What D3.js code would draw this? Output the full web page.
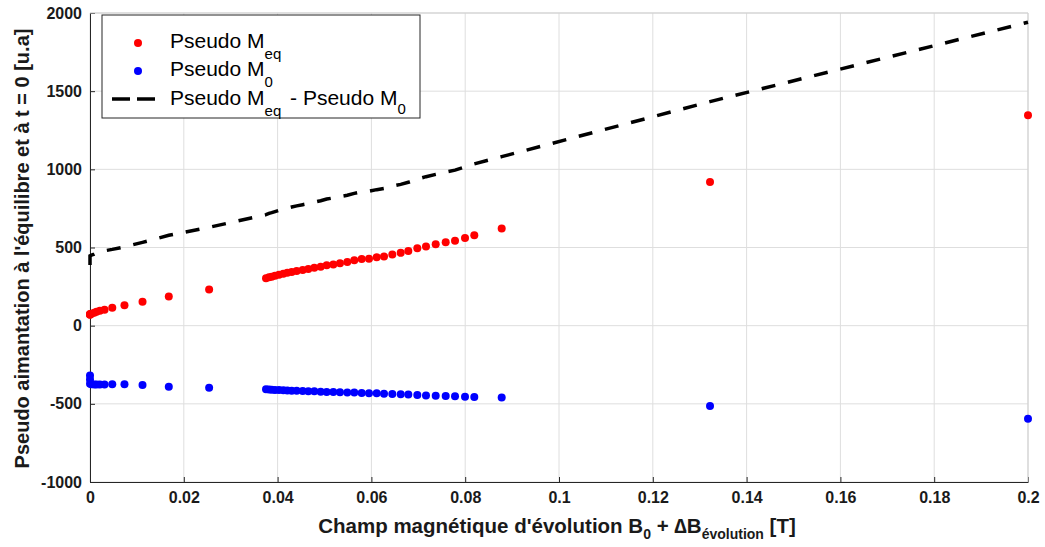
<!DOCTYPE html>
<html>
<head>
<meta charset="utf-8">
<script src="https://cdn.jsdelivr.net/npm/d3@7"></script>
<style>
  body { margin: 0; background: #fff; }
  svg text { font-family: "Liberation Sans", Arial, sans-serif; }
</style>
</head>
<body>
<svg id="chart" width="1045" height="547"></svg>
<script>
// magnetic field values (T)
var field = [0, 0, 0, 0.0003, 0.0009, 0.0014, 0.0021, 0.0031, 0.00475, 0.00735, 0.0112, 0.0168, 0.0254,
    0.03753, 0.03817, 0.03874, 0.03945, 0.0403, 0.04122, 0.04207, 0.04301, 0.04407, 0.04535,
    0.04655, 0.04783, 0.04919, 0.05047, 0.05188, 0.0533, 0.05486, 0.05635, 0.05793, 0.05949,
    0.06113, 0.06269, 0.06446, 0.06625, 0.06787, 0.06979, 0.07164, 0.07371, 0.07584, 0.07783,
    0.07996, 0.08194, 0.08778, 0.1322, 0.2];

// pseudo M_eq
var mEq = [70, 72, 75, 76, 82, 89, 95, 102, 114, 130, 153, 187, 232,
    303, 309, 313, 319, 326, 332, 338, 343, 349, 356,
    362, 370, 377, 386, 392, 400, 407, 418, 426, 428,
    437, 443, 456, 466, 477, 495, 507, 520, 533, 543,
    560, 578, 622, 919, 1346];

// pseudo M_0
var m0 = [-318, -345, -372, -375, -376, -376, -376, -377, -374, -374, -380, -391, -397,
    -407, -409, -410, -411, -412, -413, -414, -416, -417, -418,
    -419, -420, -422, -424, -425, -426, -427, -428, -430, -432,
    -433, -435, -437, -438, -440, -443, -446, -448, -450, -452,
    -455, -457, -459, -514, -595];

var xTicks = [0, 0.02, 0.04, 0.06, 0.08, 0.1, 0.12, 0.14, 0.16, 0.18, 0.2];
var yTicks = [-1000, -500, 0, 500, 1000, 1500, 2000];

var svg = d3.select("#chart");
var pLeft = 90, pRight = 1028, pTop = 13, pBottom = 482;

var x = d3.scaleLinear().domain([0, 0.2]).range([pLeft, pRight]);
var y = d3.scaleLinear().domain([-1000, 2000]).range([pBottom, pTop]);

var data = field.map(function(b, i) {
    return { b: b, eq: mEq[i], m0: m0[i], diff: mEq[i] - m0[i] };
});

// grid
var grid = svg.append("g").attr("class", "grid");
grid.selectAll("line.gx")
    .data(xTicks)
    .enter().append("line")
    .attr("x1", function(d) { return x(d); })
    .attr("x2", function(d) { return x(d); })
    .attr("y1", pTop).attr("y2", pBottom)
    .attr("stroke", "#dedede").attr("stroke-width", 1);
grid.selectAll("line.gy")
    .data(yTicks)
    .enter().append("line")
    .attr("y1", function(d) { return y(d); })
    .attr("y2", function(d) { return y(d); })
    .attr("x1", pLeft).attr("x2", pRight)
    .attr("stroke", "#dedede").attr("stroke-width", 1);

// axes
var xAxis = d3.axisBottom(x).tickValues(xTicks).tickSizeInner(-5).tickSizeOuter(0)
    .tickPadding(10).tickFormat(function(d) { return String(+d.toFixed(2)); });
var gx = svg.append("g").attr("transform", "translate(0," + pBottom + ")").call(xAxis);
gx.select(".domain").attr("stroke", "#262626");
gx.selectAll(".tick line").attr("stroke", "#262626");
gx.selectAll(".tick text")
    .style("font-weight", "bold").style("font-size", "16px").attr("fill", "#1a1a1a");

var yAxis = d3.axisLeft(y).tickValues(yTicks).tickSizeInner(-5).tickSizeOuter(0).tickPadding(8)
    .tickFormat(function(d) { return String(d); });
var gy = svg.append("g").attr("transform", "translate(" + pLeft + ",0)").call(yAxis);
gy.select(".domain").attr("stroke", "#262626");
gy.selectAll(".tick line").attr("stroke", "#262626");
gy.selectAll(".tick text")
    .style("font-weight", "bold").style("font-size", "16px").attr("fill", "#1a1a1a");

// top / right border
svg.append("line").attr("x1", pLeft).attr("x2", pRight).attr("y1", pTop).attr("y2", pTop)
    .attr("stroke", "#cfcfcf");
svg.append("line").attr("x1", pRight).attr("x2", pRight).attr("y1", pTop).attr("y2", pBottom)
    .attr("stroke", "#cfcfcf");

// difference line
var line = d3.line()
    .x(function(d) { return x(d.b); })
    .y(function(d) { return y(d.diff); });
svg.append("path")
    .datum(data)
    .attr("d", line)
    .attr("fill", "none")
    .attr("stroke", "#000")
    .attr("stroke-width", 3.5)
    .attr("stroke-dasharray", "14,13");

// points
svg.append("g").selectAll("circle")
    .data(data)
    .enter().append("circle")
    .attr("cx", function(d) { return x(d.b); })
    .attr("cy", function(d) { return y(d.eq); })
    .attr("r", 4)
    .attr("fill", "#ff0000");
svg.append("g").selectAll("circle")
    .data(data)
    .enter().append("circle")
    .attr("cx", function(d) { return x(d.b); })
    .attr("cy", function(d) { return y(d.m0); })
    .attr("r", 4)
    .attr("fill", "#0000ff");

// axis labels
var xl = svg.append("text")
    .attr("x", (pLeft + pRight) / 2 - 2).attr("y", 533)
    .attr("text-anchor", "middle")
    .style("font-weight", "bold").style("font-size", "20.5px").attr("fill", "#1a1a1a");
xl.append("tspan").text("Champ magnétique d'évolution B");
xl.append("tspan").text("0").attr("dy", 6).style("font-size", "14px");
xl.append("tspan").text(" + \u2206B").attr("dy", -6);
xl.append("tspan").text("évolution").attr("dy", 6).style("font-size", "14px");
xl.append("tspan").text(" [T]").attr("dy", -6);

svg.append("text")
    .attr("transform", "translate(29," + ((pTop + pBottom) / 2 + 1) + ") rotate(-90)")
    .attr("text-anchor", "middle")
    .style("font-weight", "bold").style("font-size", "20px").attr("fill", "#1a1a1a")
    .text("Pseudo aimantation à l'équilibre et à t = 0 [u.a]");

// legend
var lg = svg.append("g");
lg.append("rect").attr("x", 102).attr("y", 15).attr("width", 318).attr("height", 103)
    .attr("fill", "#fff").attr("stroke", "#262626");
var items = [
    { main: "Pseudo M", sub: "eq", rest: null, type: "dot", color: "#ff0000", ty: 48 },
    { main: "Pseudo M", sub: "0", rest: null, type: "dot", color: "#0000ff", ty: 76 },
    { main: "Pseudo M", sub: "eq", rest: " - Pseudo M", type: "line", color: "#000", ty: 105 }
];
items.forEach(function(d) {
    if (d.type == "dot") {
        lg.append("circle").attr("cx", 138).attr("cy", d.ty - 5).attr("r", 4).attr("fill", d.color);
    } else {
        lg.append("line").attr("x1", 112).attr("x2", 155).attr("y1", d.ty - 6).attr("y2", d.ty - 6)
            .attr("stroke", "#000").attr("stroke-width", 3.5).attr("stroke-dasharray", "18,7");
    }
    var t = lg.append("text").attr("x", 170).attr("y", d.ty)
        .style("font-size", "21px").attr("fill", "#000");
    t.append("tspan").text(d.main);
    t.append("tspan").text(d.sub).attr("dy", 11).style("font-size", "15px");
    if (d.rest) {
        t.append("tspan").text(d.rest).attr("dy", -11).attr("dx", 3);
        t.append("tspan").text("0").attr("dy", 9).style("font-size", "15px");
    }
});
</script>
</body>
</html>
